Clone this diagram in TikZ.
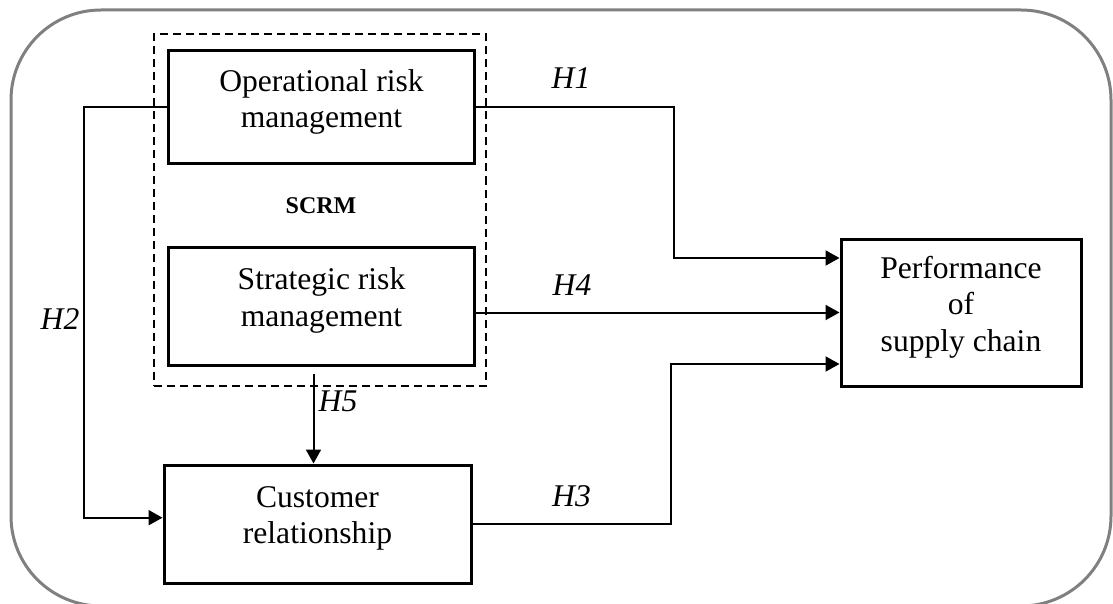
\documentclass[tikz,border=0pt]{standalone}
\usepackage{fontspec}
\setmainfont{Liberation Serif}
\usepackage{tikz}
\usetikzlibrary{arrows.meta}

\tikzset{
    factor/.style={draw, line width=3pt, inner sep=0pt, align=center, font=\fontsize{31.6}{36.5}\selectfont,
        execute at end node={\rule[-18pt]{0pt}{18pt}}},
    link/.style={line width=2pt},
    hyp/.style={font=\fontsize{31.6}{36.5}\selectfont\itshape},
}

\begin{document}
\begin{tikzpicture}[x=1pt, y=-1pt, >={Triangle[length=14pt, width=15pt]}]
    \useasboundingbox (0,0) rectangle (1113,604);
    \draw[line width=3pt, gray, rounded corners=90pt] (11,10) rectangle (1111,606);

    \node[draw, line width=2pt, dash pattern=on 8pt off 5pt, minimum width=332pt, minimum height=351pt] (scrmbox) at (320,210) {};
    \node[font=\fontsize{24}{28}\selectfont\bfseries] (scrm) at (321,206) {SCRM};

    \node[factor, minimum width=306pt, minimum height=113pt] (op) at (321.5,107.5) {Operational risk\\management};
    \node[factor, minimum width=306pt, minimum height=118pt] (st) at (321.5,306) {Strategic risk\\management};
    \node[factor, minimum width=307pt, minimum height=118pt] (cu) at (317.5,524) {Customer\\relationship};
    \node[factor, minimum width=240pt, minimum height=147pt] (pf) at (961,312.5) {Performance\\of\\supply chain};

    \draw[link, ->] (op.west) -- ++(-83,0) |- ([yshift=6.3pt]cu.west);
    \draw[link, ->] (op.east) -- ++(198,0) |- ([yshift=54.5pt]pf.west);
    \draw[link, ->] (pf.west -| st.east) -- (pf.west);
    \draw[link, ->] (cu.east) -- ++(198,0) |- ([yshift=-51.5pt]pf.west);
    \draw[link, ->] ([xshift=-8pt, yshift=-7pt]st.south) -- ([xshift=-4pt]cu.north);

    \node[hyp] (h1) at (571,78) {H1};
    \node[hyp] (h2) at (60,319) {H2};
    \node[hyp] (h3) at (571.5,496) {H3};
    \node[hyp] (h4) at (572,285) {H4};
    \node[hyp] (h5) at (338,401) {H5};
\end{tikzpicture}
\end{document}
